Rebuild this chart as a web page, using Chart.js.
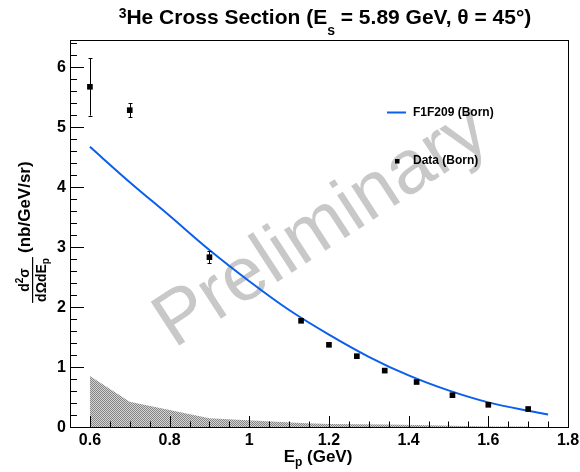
<!DOCTYPE html>
<html><head><meta charset="utf-8">
<script src="https://cdn.jsdelivr.net/npm/chart.js@4.4.0/dist/chart.umd.min.js"></script>
<style>html,body{margin:0;padding:0;background:#fff;}#wrap{width:580px;height:472px;}</style>
</head><body><div id="wrap"><canvas id="c" width="580" height="472"></canvas></div>
<script>
// ---- data ----
const dataX = [0.6, 0.7, 0.9, 1.13, 1.2, 1.27, 1.34, 1.42, 1.51, 1.6, 1.7];
const dataY = [5.67, 5.28, 2.83, 1.77, 1.37, 1.18, 0.94, 0.75, 0.53, 0.37, 0.30];
const dataErr = [0.48, 0.12, 0.10, 0.03, 0.02, 0.02, 0.02, 0.02, 0.02, 0.02, 0.02];
const modelX = [0.6, 0.7, 0.8, 0.9, 1.0, 1.1, 1.2, 1.3, 1.4, 1.5, 1.6, 1.7, 1.75];
const modelY = [4.67, 4.08, 3.52, 2.95, 2.43, 1.95, 1.54, 1.17, 0.86, 0.61, 0.41, 0.27, 0.21];
const sysX = [0.6, 0.7, 0.9, 1.13, 1.2, 1.27, 1.34, 1.42, 1.51, 1.6, 1.7];
const sysY = [0.85, 0.42, 0.145, 0.065, 0.05, 0.045, 0.04, 0.035, 0.02, 0.01, 0.01];
const xTicks = [0.6, 0.8, 1.0, 1.2, 1.4, 1.6, 1.8];
const xTickLabels = ['0.6', '0.8', '1', '1.2', '1.4', '1.6', '1.8'];
const yTicks = [0, 1, 2, 3, 4, 5, 6];
const yTickLabels = ['0', '1', '2', '3', '4', '5', '6'];
const xRange = [0.55, 1.8];
const yRange = [0, 6.45];

const FONT = '"Liberation Sans", Arial, Helvetica, sans-serif';
const BLUE = 'rgb(10,95,235)';

const canvas = document.getElementById('c');
const ctx0 = canvas.getContext('2d');
const pc = document.createElement('canvas'); pc.width = 2; pc.height = 2;
const pg = pc.getContext('2d');
pg.fillStyle = '#d4d4d4'; pg.fillRect(0, 0, 2, 2);
pg.fillStyle = '#858585'; pg.fillRect(0, 0, 1, 1); pg.fillRect(1, 1, 1, 1);
const pattern = ctx0.createPattern(pc, 'repeat');

const pts = (xs, ys) => xs.map((x, i) => ({ x: x, y: ys[i] }));

const decor = {
  id: 'decor',
  beforeDatasetsDraw(chart) {
    const c = chart.ctx;
    // watermark
    c.save();
    c.translate(322, 228);
    c.rotate(-33 * Math.PI / 180);
    c.font = '76px ' + FONT;
    c.fillStyle = 'rgb(200,200,200)';
    c.textAlign = 'center';
    c.textBaseline = 'middle';
    c.fillText('Preliminary', 0, 0);
    c.restore();
  },
  afterDatasetsDraw(chart) {
    const c = chart.ctx, a = chart.chartArea;
    const xs = chart.scales.x, ys = chart.scales.y;
    c.save();
    // error bars
    c.strokeStyle = '#000'; c.lineWidth = 1;
    dataX.forEach((x, i) => {
      const px = Math.round(xs.getPixelForValue(x)) + 0.5;
      const t = ys.getPixelForValue(dataY[i] + dataErr[i]);
      const b = ys.getPixelForValue(dataY[i] - dataErr[i]);
      if (b - t > 6) {
        c.beginPath();
        c.moveTo(px, t); c.lineTo(px, b);
        c.moveTo(px - 2, Math.round(t) + 0.5); c.lineTo(px + 2, Math.round(t) + 0.5);
        c.moveTo(px - 2, Math.round(b) + 0.5); c.lineTo(px + 2, Math.round(b) + 0.5);
        c.stroke();
      }
    });
    // frame
    c.strokeStyle = '#000'; c.lineWidth = 1;
    c.strokeRect(Math.round(a.left) + 0.5, Math.round(a.top) + 0.5, Math.round(a.right - a.left), Math.round(a.bottom - a.top));
    // x ticks (inward)
    c.beginPath();
    for (let k = 0; k <= 25; k++) {
      const v = xRange[0] + k * 0.05;
      if (v > xRange[1] + 1e-9) break;
      const px = Math.round(xs.getPixelForValue(v)) + 0.5;
      const major = Math.abs(v * 5 - Math.round(v * 5)) < 1e-6;
      const len = major ? 11 : 5.5;
      c.moveTo(px, a.bottom); c.lineTo(px, a.bottom - len);
    }
    // y ticks (inward)
    for (let k = 0; k <= 40; k++) {
      const v = k * 0.2;
      if (v > yRange[1]) break;
      const py = Math.round(ys.getPixelForValue(v)) + 0.5;
      const major = Math.abs(v - Math.round(v)) < 1e-6;
      const len = major ? 14 : 7;
      c.moveTo(a.left, py); c.lineTo(a.left + len, py);
    }
    c.stroke();
    // tick labels
    c.fillStyle = '#000';
    c.font = 'bold 16px ' + FONT;
    c.textAlign = 'center'; c.textBaseline = 'alphabetic';
    xTicks.forEach((v, i) => c.fillText(xTickLabels[i], xs.getPixelForValue(v), a.bottom + 18));
    c.textAlign = 'right'; c.textBaseline = 'middle';
    yTicks.forEach((v, i) => c.fillText(yTickLabels[i], a.left - 4, ys.getPixelForValue(v) + 1));
    c.restore();
  },
  afterDraw(chart) {
    const c = chart.ctx;
    c.save();
    c.fillStyle = '#000';
    c.textBaseline = 'alphabetic';
    c.textAlign = 'left';
    // title
    const big = 'bold 21px ' + FONT, small = 'bold 14px ' + FONT;
    const parts = [
      { t: '3', f: small, dy: -6 },
      { t: 'He Cross Section (E', f: big, dy: 0 },
      { t: 's', f: small, dy: 11 },
      { t: ' = 5.89 GeV, \u03B8 = 45\u00B0)', f: big, dy: 0 }
    ];
    let w = 0;
    parts.forEach(p => { c.font = p.f; p.w = c.measureText(p.t).width; w += p.w; });
    let x = 325 - w / 2;
    parts.forEach(p => { c.font = p.f; c.fillText(p.t, x, 24 + p.dy); x += p.w; });
    // x title
    const xparts = [
      { t: 'E', f: 'bold 17px ' + FONT, dy: 0 },
      { t: 'p', f: 'bold 12px ' + FONT, dy: 4 },
      { t: ' (GeV)', f: 'bold 17px ' + FONT, dy: 0 }
    ];
    w = 0;
    xparts.forEach(p => { c.font = p.f; p.w = c.measureText(p.t).width; w += p.w; });
    x = 318 - w / 2;
    xparts.forEach(p => { c.font = p.f; c.fillText(p.t, x, 462 + p.dy); x += p.w; });
    // y title (rotated): screenX = y', screenY = -x'
    c.save();
    c.rotate(-Math.PI / 2);
    c.font = 'bold 17px ' + FONT;
    c.fillText('(nb/GeV/sr)', -253, 30);
    const fc = -280;
    const num = [
      { t: 'd', f: 'bold 14px ' + FONT, dy: 0 },
      { t: '2', f: 'bold 10px ' + FONT, dy: -6 },
      { t: '\u03C3', f: 'bold 14px ' + FONT, dy: 0 }
    ];
    const den = [
      { t: 'd\u03A9dE', f: 'bold 14px ' + FONT, dy: 0 },
      { t: 'p', f: 'bold 10px ' + FONT, dy: 3 }
    ];
    const layout = (arr, base) => {
      let ww = 0;
      arr.forEach(p => { c.font = p.f; p.w = c.measureText(p.t).width; ww += p.w; });
      let xx = fc - ww / 2;
      arr.forEach(p => { c.font = p.f; c.fillText(p.t, xx, base + p.dy); xx += p.w; });
      return ww;
    };
    const wn = layout(num, 28.5);
    const wd = layout(den, 45.5);
    const bl = Math.max(wn, wd) + 2;
    c.fillRect(fc - bl / 2, 32, bl, 1.2);
    c.restore();
    // legend
    c.strokeStyle = BLUE; c.lineWidth = 2;
    c.beginPath(); c.moveTo(387, 112.5); c.lineTo(406, 112.5); c.stroke();
    c.font = 'bold 12px ' + FONT;
    c.textBaseline = 'middle';
    c.fillText('F1F209 (Born)', 413, 113);
    c.fillRect(395, 159, 4.5, 4.5);
    c.fillText('Data (Born)', 413, 161);
    c.restore();
  }
};

new Chart(canvas, {
  type: 'scatter',
  data: {
    datasets: [
      {
        label: 'Data (Born)',
        data: pts(dataX, dataY),
        pointStyle: 'rect',
        pointRadius: 4,
        pointBackgroundColor: '#000',
        pointBorderWidth: 0,
        showLine: false
      },
      {
        label: 'F1F209 (Born)',
        data: pts(modelX, modelY),
        showLine: true,
        borderColor: BLUE,
        borderWidth: 2,
        pointRadius: 0,
        fill: false,
        cubicInterpolationMode: 'monotone'
      },
      {
        label: 'Systematic',
        data: pts(sysX, sysY),
        showLine: true,
        borderWidth: 0,
        borderColor: 'rgba(0,0,0,0)',
        backgroundColor: pattern,
        pointRadius: 0,
        fill: 'origin',
        tension: 0
      }
    ]
  },
  options: {
    responsive: false,
    animation: false,
    devicePixelRatio: 1,
    layout: { padding: { top: 40, right: 12, left: 0, bottom: 0 } },
    plugins: { legend: { display: false }, tooltip: { enabled: false }, title: { display: false } },
    scales: {
      x: {
        type: 'linear', min: xRange[0], max: xRange[1],
        afterBuildTicks: s => { s.ticks = xTicks.map(v => ({ value: v })); },
        afterFit: s => { s.height = 45; },
        grid: { display: false, drawTicks: false }, border: { display: false },
        ticks: { display: false }
      },
      y: {
        type: 'linear', min: yRange[0], max: yRange[1],
        afterBuildTicks: s => { s.ticks = yTicks.map(v => ({ value: v })); },
        afterFit: s => { s.width = 70; },
        grid: { display: false, drawTicks: false }, border: { display: false },
        ticks: { display: false }
      }
    }
  },
  plugins: [decor]
});
</script>
</body></html>
